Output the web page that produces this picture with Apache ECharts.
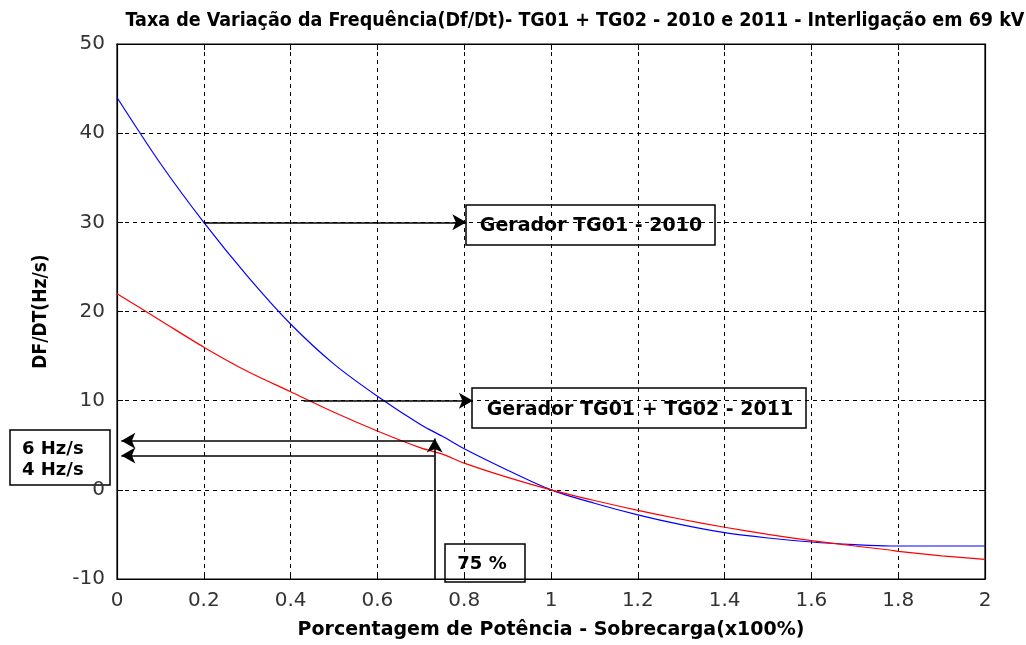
<!DOCTYPE html>
<html>
<head>
<meta charset="utf-8">
<script src="https://cdn.jsdelivr.net/npm/echarts@6/dist/echarts.min.js"></script>
<style>html,body{margin:0;padding:0;background:#fff}#c{width:1026px;height:645px}</style>
</head>
<body>
<div id="c"></div>
<script>
const xValues = [0,0.1,0.2,0.3,0.4,0.5,0.6,0.7,0.75,0.8,0.9,1.0,1.1,1.2,1.3,1.4,1.5,1.6,1.7,1.78,1.8,1.9,2.0];
const tg01_2010 = [44,36.6,30,24,18.6,14.1,10.5,7.3,6.0,4.6,2.2,0,-1.5,-2.8,-3.9,-4.8,-5.4,-5.85,-6.15,-6.3,-6.3,-6.3,-6.3];
const tg01tg02_2011 = [22,19,16,13.3,11,8.7,6.6,4.7,4.0,3.0,1.4,0,-1.2,-2.3,-3.3,-4.2,-5.0,-5.7,-6.3,-6.75,-6.9,-7.4,-7.8];
const xTicks = {min:0, max:2, interval:0.2};
const yTicks = {min:-10, max:50, interval:10};
const titleText = 'Taxa de Variação da Frequência(Df/Dt)- TG01 + TG02 - 2010 e 2011 - Interligação em 69 kV';
const xName = 'Porcentagem de Potência - Sobrecarga(x100%)';
const yName = 'DF/DT(Hz/s)';
const label2010 = 'Gerador TG01 - 2010';
const label2011 = 'Gerador TG01 + TG02 - 2011';
const labelHz = ['6 Hz/s','4 Hz/s'];
const label75 = '75 %';
// annotation arrows [from, to] in data coordinates
const arrows = [
  [[0.2,30],[0.805,30]],
  [[0.43,10],[0.82,10]],
  [[0.732,5.5],[0.01,5.5]],
  [[0.732,3.85],[0.01,3.85]],
  [[0.732,-10],[0.732,5.75]]
];

const pair = (xs, ys) => xs.map((x,i)=>[x, ys[i]]);
const chart = echarts.init(document.getElementById('c'));
const gridLine = {show:true, lineStyle:{color:'#000', type:[4,4], width:1}};
const tickFont = {fontFamily:'DejaVu Sans', fontSize:20, color:'#333'};
const boxFont = {fontFamily:'DejaVu Sans', fontWeight:'bold', fontSize:19, fill:'#000'};
const hzFont = {fontFamily:'DejaVu Sans', fontWeight:'bold', fontSize:18, fill:'#000'};
const axisLineStyle = {show:true, onZero:false, lineStyle:{color:'#000', width:1.2}};

chart.setOption({
  animation:false,
  backgroundColor:'#fff',
  title:{text:titleText, left:570, top:6, textAlign:'center',
    textStyle:{fontFamily:'Liberation Sans Narrow, DejaVu Sans Condensed', fontWeight:'bold', fontSize:19.5, color:'#000'}},
  grid:{left:117, right:41, top:44, bottom:54, show:true, borderColor:'#000', borderWidth:1.2, backgroundColor:'transparent'},
  xAxis:[{type:'value', min:xTicks.min, max:xTicks.max, interval:xTicks.interval,
    name:xName, nameLocation:'middle', nameGap:42,
    nameTextStyle:{fontFamily:'DejaVu Sans', fontWeight:'bold', fontSize:19, color:'#000'},
    axisLine:axisLineStyle,
    axisTick:{show:true, inside:true, length:6, lineStyle:{color:'#000'}},
    axisLabel:Object.assign({margin:12}, tickFont),
    splitLine:gridLine},
    {type:'value', position:'top', min:xTicks.min, max:xTicks.max, interval:xTicks.interval,
    axisLine:axisLineStyle,
    axisTick:{show:true, inside:true, length:6, lineStyle:{color:'#000'}},
    axisLabel:{show:false}, splitLine:{show:false}}],
  yAxis:[{type:'value', min:yTicks.min, max:yTicks.max, interval:yTicks.interval,
    name:yName, nameLocation:'middle', nameGap:66, nameRotate:90,
    nameTextStyle:{fontFamily:'Liberation Sans Narrow, DejaVu Sans Condensed', fontWeight:'bold', fontSize:19, color:'#000'},
    axisLine:axisLineStyle,
    axisTick:{show:true, inside:true, length:6, lineStyle:{color:'#000'}},
    axisLabel:Object.assign({margin:12}, tickFont),
    splitLine:gridLine},
    {type:'value', position:'right', min:yTicks.min, max:yTicks.max, interval:yTicks.interval,
    axisLine:axisLineStyle,
    axisTick:{show:true, inside:true, length:6, lineStyle:{color:'#000'}},
    axisLabel:{show:false}, splitLine:{show:false}}],
  series:[
    {name:'TG01 2010', type:'line', data:pair(xValues,tg01_2010), showSymbol:false, smooth:0.3,
      lineStyle:{color:'#0000ff', width:1.2}, z:3},
    {name:'TG01+TG02 2011', type:'line', data:pair(xValues,tg01tg02_2011), showSymbol:false, smooth:0.3,
      lineStyle:{color:'#ff0000', width:1.2}, z:3},
    {name:'annot', type:'line', data:[], z:4,
      markLine:{silent:true, symbol:['none','arrow'], symbolSize:[12,14], animation:false,
        label:{show:false}, lineStyle:{color:'#000', width:1.6, type:'solid'},
        data:arrows.map(a=>[{coord:a[0]},{coord:a[1]}])}}
  ],
  graphic:[
    {type:'rect', shape:{x:466,y:205,width:249,height:40}, style:{fill:'none', stroke:'#000', lineWidth:1.5}},
    {type:'text', x:591, y:226, style:Object.assign({text:label2010, align:'center', verticalAlign:'middle'}, boxFont)},
    {type:'rect', shape:{x:472,y:388,width:334,height:40}, style:{fill:'none', stroke:'#000', lineWidth:1.5}},
    {type:'text', x:640, y:410, style:Object.assign({text:label2011, align:'center', verticalAlign:'middle'}, boxFont)},
    {type:'rect', shape:{x:10,y:430,width:100,height:55}, style:{fill:'none', stroke:'#000', lineWidth:1.5}},
    {type:'text', x:22, y:449, style:Object.assign({text:labelHz[0], align:'left', verticalAlign:'middle'}, hzFont)},
    {type:'text', x:22, y:470, style:Object.assign({text:labelHz[1], align:'left', verticalAlign:'middle'}, hzFont)},
    {type:'rect', shape:{x:445,y:544,width:80,height:38}, style:{fill:'none', stroke:'#000', lineWidth:1.5}},
    {type:'text', x:482, y:564, style:Object.assign({text:label75, align:'center', verticalAlign:'middle'}, hzFont)}
  ]
});
</script>
</body>
</html>
